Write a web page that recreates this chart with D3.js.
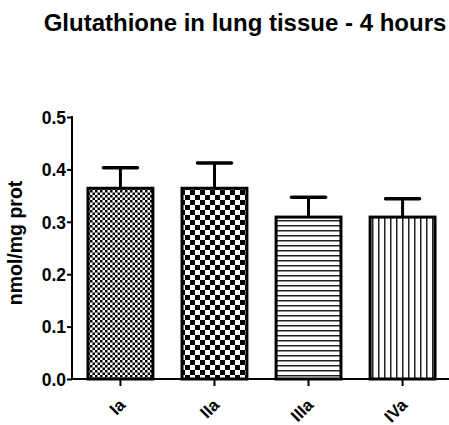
<!DOCTYPE html>
<html>
<head>
<meta charset="utf-8">
<script src="https://cdn.jsdelivr.net/npm/d3@7"></script>
<style>
  body { margin: 0; background: #fff; }
  svg text { font-family: "Liberation Sans", Arial, sans-serif; font-weight: bold; fill: #000; }
</style>
</head>
<body>
<svg id="chart" width="449" height="425"></svg>
<script>
// data
let groups = ["Ia", "IIa", "IIIa", "IVa"];
let means = [0.364, 0.364, 0.309, 0.309];
let errors = [0.039, 0.048, 0.038, 0.035];
let fills = ["checkFine", "checkBig", "hLines", "vLines"];
let yTicks = [0.0, 0.1, 0.2, 0.3, 0.4, 0.5];

let svg = d3.select("#chart");

// fill patterns
let defs = svg.append("defs");
let p1 = defs.append("pattern").attr("id", "checkFine").attr("patternUnits", "userSpaceOnUse")
    .attr("width", 5).attr("height", 5);
p1.append("rect").attr("width", 5).attr("height", 5).attr("fill", "#fff");
p1.append("rect").attr("width", 2.5).attr("height", 2.5).attr("fill", "#000");
p1.append("rect").attr("x", 2.5).attr("y", 2.5).attr("width", 2.5).attr("height", 2.5).attr("fill", "#000");

let p2 = defs.append("pattern").attr("id", "checkBig").attr("patternUnits", "userSpaceOnUse")
    .attr("width", 10).attr("height", 10);
p2.append("rect").attr("width", 10).attr("height", 10).attr("fill", "#fff");
p2.append("rect").attr("width", 5).attr("height", 5).attr("fill", "#000");
p2.append("rect").attr("x", 5).attr("y", 5).attr("width", 5).attr("height", 5).attr("fill", "#000");

let p3 = defs.append("pattern").attr("id", "hLines").attr("patternUnits", "userSpaceOnUse")
    .attr("width", 10).attr("height", 5);
p3.append("rect").attr("width", 10).attr("height", 5).attr("fill", "#fff");
p3.append("rect").attr("y", 0).attr("width", 10).attr("height", 1.5).attr("fill", "#222");

let p4 = defs.append("pattern").attr("id", "vLines").attr("patternUnits", "userSpaceOnUse")
    .attr("width", 6).attr("height", 10);
p4.append("rect").attr("width", 6).attr("height", 10).attr("fill", "#fff");
p4.append("rect").attr("x", 0).attr("width", 1.5).attr("height", 10).attr("fill", "#222");

let x = d3.scaleBand().domain(groups).range([72, 451]).paddingInner(0.31).paddingOuter(0.17);
let y = d3.scaleLinear().domain([0, 0.5]).range([379, 117]);

// title
svg.append("text").attr("x", 245).attr("y", 31).attr("text-anchor", "middle")
    .style("font-size", "24px").text("Glutathione in lung tissue - 4 hours");

// bars
svg.selectAll(".bar").data(groups).enter().append("rect")
    .attr("class", "bar")
    .attr("x", d => x(d))
    .attr("y", (d, i) => y(means[i]))
    .attr("width", x.bandwidth())
    .attr("height", (d, i) => y(0) - y(means[i]))
    .attr("fill", (d, i) => "url(#" + fills[i] + ")")
    .attr("stroke", "#000").attr("stroke-width", 3);

// error bars (upper only)
let eb = svg.selectAll(".err").data(groups).enter().append("g").attr("class", "err");
eb.append("line")
    .attr("x1", d => x(d) + x.bandwidth() / 2).attr("x2", d => x(d) + x.bandwidth() / 2)
    .attr("y1", (d, i) => y(means[i])).attr("y2", (d, i) => y(means[i] + errors[i]))
    .attr("stroke", "#000").attr("stroke-width", 3);
eb.append("line")
    .attr("x1", d => x(d) + x.bandwidth() / 2 - 17).attr("x2", d => x(d) + x.bandwidth() / 2 + 17)
    .attr("y1", (d, i) => y(means[i] + errors[i])).attr("y2", (d, i) => y(means[i] + errors[i]))
    .attr("stroke", "#000").attr("stroke-width", 3.5).attr("stroke-linecap", "round");

// y axis
let yAxis = svg.append("g").attr("transform", "translate(72,0)")
    .call(d3.axisLeft(y).tickValues(yTicks).tickFormat(d3.format(".1f")).tickSize(5).tickSizeOuter(0));
yAxis.attr("font-size", null).attr("font-family", null);
yAxis.select(".domain").attr("stroke-width", 2).attr("d", "M0," + (y(0.5) - 1) + "V" + y(0));
yAxis.selectAll(".tick line").attr("stroke-width", 2);
yAxis.selectAll(".tick text").attr("x", -6).attr("dy", "0.36em")
    .style("font-size", "17.5px");

// x axis
let xAxis = svg.append("g").attr("transform", "translate(0,379)")
    .call(d3.axisBottom(x).tickSize(7).tickSizeOuter(0));
xAxis.attr("font-size", null).attr("font-family", null);
xAxis.select(".domain").attr("stroke-width", 2).attr("d", "M71,0H449");
xAxis.selectAll(".tick line").attr("stroke-width", 2);
xAxis.selectAll(".tick text")
    .style("font-size", "17px")
    .attr("text-anchor", "end").attr("dy", 0).attr("y", 0)
    .attr("transform", "translate(6,27) rotate(-45)");

// y label
svg.append("text").attr("transform", "translate(22,243) rotate(-90)").attr("text-anchor", "middle")
    .style("font-size", "19.5px").text("nmol/mg prot");
</script>
</body>
</html>
